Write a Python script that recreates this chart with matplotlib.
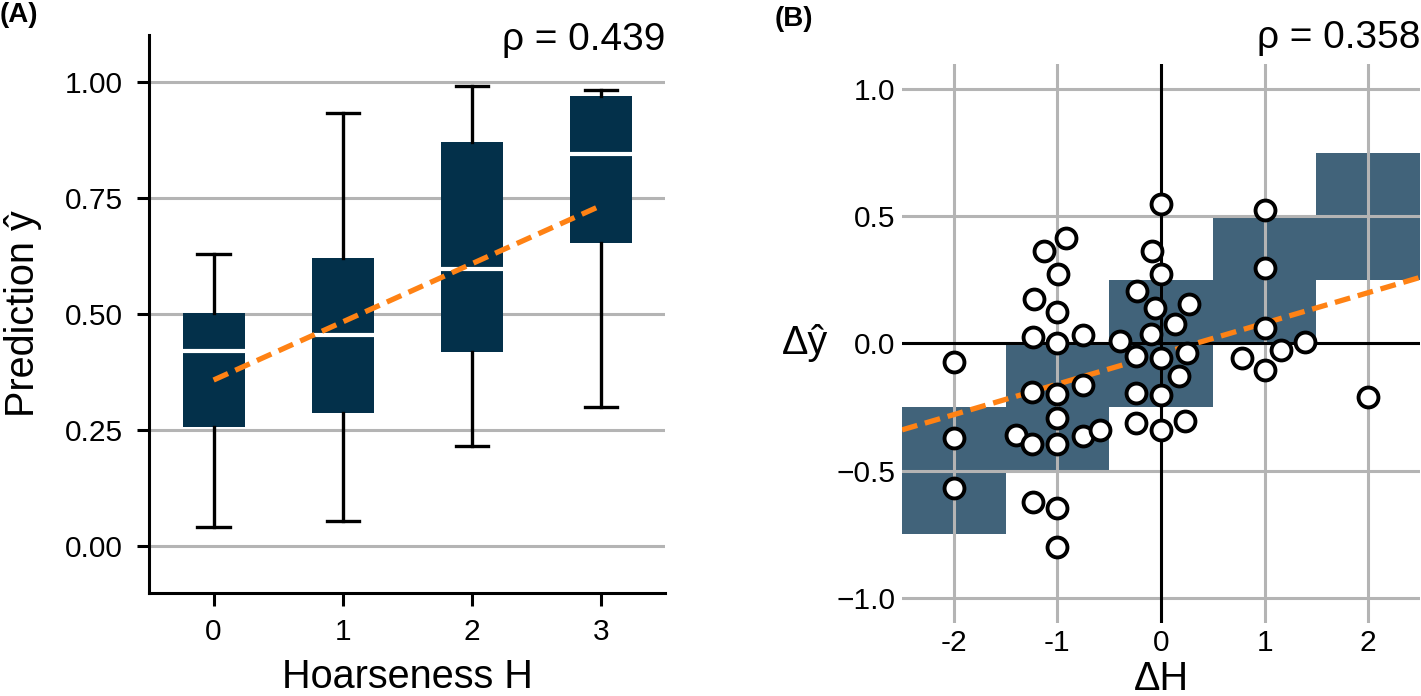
import numpy as np
import matplotlib
matplotlib.use("Agg")
import matplotlib.pyplot as plt

plt.rcParams['font.family'] = ['Liberation Sans', 'DejaVu Sans']

# ---- panel A: box statistics ----
hoarseness = [0, 1, 2, 3]
box_med = [0.42, 0.455, 0.596, 0.844]
box_q1 = [0.258, 0.287, 0.418, 0.653]
box_q3 = [0.503, 0.621, 0.870, 0.969]
whis_lo = [0.041, 0.054, 0.217, 0.299]
whis_hi = [0.630, 0.932, 0.990, 0.982]
fit_a_x = [0, 3]
fit_a_y = [0.358, 0.733]
rho_a = 0.439
yticks_a = [0.0, 0.25, 0.5, 0.75, 1.0]

# ---- panel B: differences ----
dh = [-2, -2, -2,
      -1.125, -0.92, -0.996, -1.23, -1.0, -1.24, -1.0, -0.757, -1.25, -1.0,
      -0.757, -1.0, -1.396, -1.246, -1.0, -0.757, -0.593, -1.24, -1.0, -1.0,
      0.0, -0.086, 0.0, -0.229, 0.268, -0.061, 0.132, -0.1, -0.396, -0.243,
      0.0, 0.246, 0.171, -0.243, 0.0, -0.243, 0.0, 0.236,
      1.0, 1.0, 1.0, 0.782, 1.0, 1.157, 1.389,
      2.0]
dy = [-0.072, -0.372, -0.570,
      0.362, 0.417, 0.274, 0.174, 0.125, 0.026, 0.0, 0.033, -0.19, -0.197,
      -0.162, -0.293, -0.359, -0.395, -0.395, -0.364, -0.339, -0.625, -0.647, -0.80,
      0.55, 0.362, 0.272, 0.208, 0.155, 0.138, 0.075, 0.037, 0.008, -0.049,
      -0.057, -0.036, -0.129, -0.193, -0.204, -0.313, -0.342, -0.305,
      0.526, 0.296, 0.059, -0.059, -0.105, -0.026, 0.007,
      -0.21]
band_x = [-2, -1, 0, 1, 2]
band_lo = [-0.75, -0.5, -0.25, 0.0, 0.25]
band_hi = [-0.25, 0.0, 0.25, 0.5, 0.75]
fit_b_x = [-2.5, 2.5]
fit_b_y = [-0.34, 0.26]
rho_b = 0.358
xticks_b = [-2, -1, 0, 1, 2]
xticklabels_b = ['-2', '-1', '0', '1', '2']
yticks_b = [-1.0, -0.5, 0.0, 0.5, 1.0]

navy = '#03304a'
steel = '#41637a'
orange = '#ff8214'
grid_c = '#b4b4b4'
dash = (0, (3.0, 1.5))

TICK_FS = 21.5
LABEL_FS = 28.5
RHO_FS = 28

fig = plt.figure(figsize=(14.21, 6.96), dpi=100)

# ---------------- (A) ----------------
ax1 = fig.add_axes([0.1049, 0.148, 0.3634, 0.8017])
stats = []
for i in range(len(hoarseness)):
    stats.append(dict(med=box_med[i], q1=box_q1[i], q3=box_q3[i],
                      whislo=whis_lo[i], whishi=whis_hi[i], fliers=[]))
ax1.bxp(stats, positions=hoarseness, widths=0.48, capwidths=0.25,
        patch_artist=True, showfliers=False,
        boxprops=dict(facecolor=navy, edgecolor='none'),
        medianprops=dict(color='white', linewidth=3),
        whiskerprops=dict(color='black', linewidth=2.4),
        capprops=dict(color='black', linewidth=2.4))
ax1.plot(fit_a_x, fit_a_y, color=orange, linewidth=3.8,
         linestyle=dash, zorder=5)
ax1.set_xlim(-0.5, 3.5)
ax1.set_ylim(-0.1, 1.1)
ax1.set_xticks(hoarseness)
ax1.set_xticklabels([str(h) for h in hoarseness])
ax1.set_yticks(yticks_a)
ax1.set_yticklabels([f'{v:.2f}' for v in yticks_a])
ax1.set_axisbelow(True)
ax1.yaxis.grid(True, color=grid_c, linewidth=2.2)
for s in ['top', 'right']:
    ax1.spines[s].set_visible(False)
for s in ['left', 'bottom']:
    ax1.spines[s].set_linewidth(2.2)
ax1.tick_params(axis='both', labelsize=TICK_FS, length=9, width=2.2)
ax1.tick_params(axis='x', pad=9)
ax1.tick_params(axis='y', pad=10)
ax1.set_xlabel('Hoarseness H', fontsize=LABEL_FS)
ax1.xaxis.set_label_coords(0.5, -0.116)
ax1.set_ylabel('Prediction ŷ', fontsize=LABEL_FS, va='center')
ax1.yaxis.set_label_coords(-0.244, 0.5)
ax1.text(1.0, 0.973, f'ρ = {rho_a:.3f}', transform=ax1.transAxes,
         ha='right', va='baseline', fontsize=RHO_FS)

# ---------------- (B) ----------------
ax2 = fig.add_axes([0.6348, 0.1049, 0.3645, 0.8032])
ax2.bar(band_x, np.array(band_hi) - np.array(band_lo), bottom=band_lo,
        width=1.0, color=steel, linewidth=0, zorder=1)
ax2.axhline(0, color='black', linewidth=2.2, zorder=2)
ax2.axvline(0, color='black', linewidth=2.2, zorder=2)
ax2.plot(fit_b_x, fit_b_y, color=orange, linewidth=3.8,
         linestyle=dash, zorder=3)
ax2.scatter(dh, dy, s=205, facecolor='white', edgecolor='black',
            linewidth=2.8, zorder=4)
ax2.set_xlim(-2.5, 2.5)
ax2.set_ylim(-1.1, 1.1)
ax2.set_xticks(xticks_b)
ax2.set_xticklabels(xticklabels_b)
ax2.set_yticks(yticks_b)
ax2.grid(True, color=grid_c, linewidth=2.2)
for s in ax2.spines.values():
    s.set_visible(False)
ax2.tick_params(axis='both', labelsize=TICK_FS, length=0)
ax2.tick_params(axis='x', pad=4.5)
ax2.tick_params(axis='y', pad=5)
ax2.set_xlabel('ΔH', fontsize=LABEL_FS)
ax2.xaxis.set_label_coords(0.5, -0.066)
ax2.set_ylabel('Δŷ', fontsize=LABEL_FS, rotation=0, ha='center', va='center')
ax2.yaxis.set_label_coords(-0.187, 0.5)
ax2.text(1.0, 1.0286, f'ρ = {rho_b:.3f}', transform=ax2.transAxes,
         ha='right', va='baseline', fontsize=RHO_FS)

fig.text(0.0, 0.997, '(A)', fontsize=20, fontweight='bold', va='top', ha='left')
fig.text(0.5454, 0.992, '(B)', fontsize=20, fontweight='bold', va='top', ha='left')

fig.savefig('out.png', dpi=100)
